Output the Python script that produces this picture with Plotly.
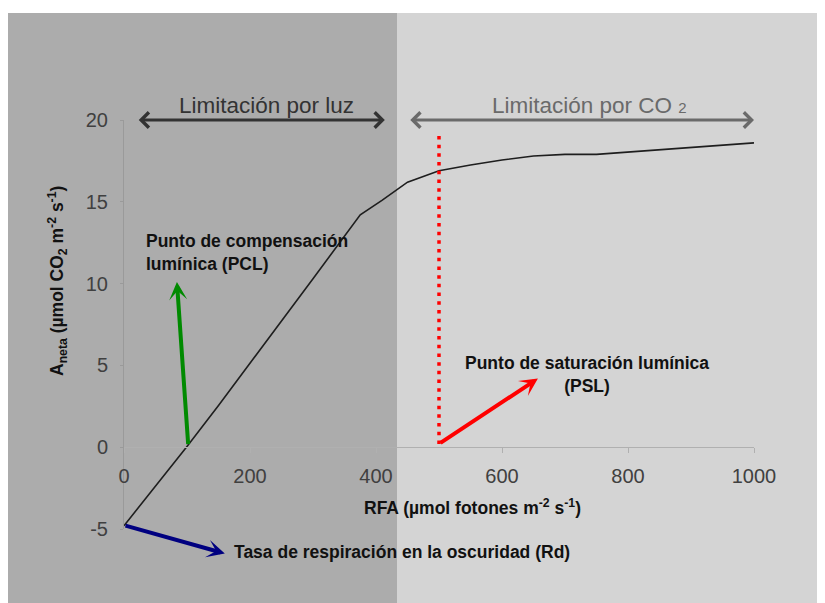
import plotly.graph_objects as go

# ---- data ----
rfa = [0, 50, 100, 150, 225, 300, 375, 410, 450, 500, 550, 600, 650, 700, 750, 1000]
a_neta = [-4.8, -2.4, 0.05, 2.55, 6.4, 10.3, 14.2, 15.1, 16.2, 16.9, 17.25, 17.55, 17.8, 17.9, 17.9, 18.6]

x_ticks = [0, 200, 400, 600, 800, 1000]
x_ticktext = ["0", "200", "400", "600", "800", "1000"]
y_ticks = [-5, 0, 5, 10, 15, 20]
y_ticktext = ["-5", "0", "5", "10", "15", "20"]

pcl_point = (102, 0.1)        # punto de compensación lumínica
pcl_tip = (84, 10.1)
psl_point = (500, 0.2)        # punto de saturación lumínica
psl_tip = (657, 4.2)
psl_line_top = 19.1
rd_point = (0, -4.77)         # respiración en oscuridad
rd_tip = (160, -6.5)
luz_range = (21, 414)
co2_range = (452, 1000)
arrow_y = 20

W, H = 825, 603
OFF = 8  # page body margin
L, T = 124 - OFF, 120 - OFF
PW, PH = 630, 409
R, B = W - L - PW, H - T - PH


def px(xp):  # screen pixel -> paper
    return (xp - OFF - L) / PW


def py(yp):
    return (T + PH - (yp - OFF)) / PH


fig = go.Figure()

# background panels
fig.add_shape(type="rect", xref="paper", yref="paper", x0=px(8), x1=px(397),
              y0=py(640), y1=py(13), fillcolor="#acacac", line_width=0, layer="below")
fig.add_shape(type="rect", xref="paper", yref="paper", x0=px(397), x1=px(840),
              y0=py(640), y1=py(13), fillcolor="#d4d4d4", line_width=0, layer="below")

# curve
fig.add_trace(go.Scatter(x=rfa, y=a_neta, mode="lines",
                         line=dict(color="#1e1e1e", width=1.6), hoverinfo="skip"))

# PSL dotted vertical line
fig.add_trace(go.Scatter(x=[psl_point[0], psl_point[0]], y=[psl_point[1], psl_line_top],
                         mode="lines", line=dict(color="#ff0000", width=3.5, dash="3.5px,5.2px"),
                         hoverinfo="skip"))

ann = []


def arrow(tip, tail, color, width, head, size, both=False):
    d = dict(x=tip[0], y=tip[1], ax=tail[0], ay=tail[1], xref="x", yref="y",
             axref="x", ayref="y", text="", showarrow=True, arrowcolor=color,
             arrowwidth=width, arrowhead=head, arrowsize=size, standoff=0, startstandoff=0)
    if both:
        d.update(arrowside="end+start", startarrowhead=head, startarrowsize=size)
    ann.append(d)


arrow(pcl_tip, pcl_point, "#008a00", 4, 3, 0.75)
arrow(psl_tip, psl_point, "#ff0000", 4, 3, 0.75)
arrow(rd_tip, rd_point, "#000080", 4, 3, 0.75)
arrow((luz_range[1], arrow_y), (luz_range[0], arrow_y), "#333333", 3, 4, 1, both=True)
arrow((co2_range[1], arrow_y), (co2_range[0], arrow_y), "#6a6a6a", 3, 4, 1, both=True)

fam = "Liberation Sans, Arial, sans-serif"

ann.append(dict(x=px(266), y=py(105), xref="paper", yref="paper", showarrow=False,
                text="Limitación por luz", font=dict(family=fam, size=22.5, color="#333333"),
                xanchor="center", yanchor="middle"))
ann.append(dict(x=px(589), y=py(106), xref="paper", yref="paper", showarrow=False,
                text="Limitación por CO <span style='font-size:15px'>2</span>",
                font=dict(family=fam, size=22.5, color="#6a6a6a"),
                xanchor="center", yanchor="middle"))
ann.append(dict(x=px(144), y=py(252), xref="paper", yref="paper", showarrow=False,
                text="<b>Punto de compensación<br>lumínica (PCL)</b>", align="left",
                font=dict(family=fam, size=17.5, color="#111111"),
                xanchor="left", yanchor="middle"))
ann.append(dict(x=px(587), y=py(374), xref="paper", yref="paper", showarrow=False,
                text="<b>Punto de saturación lumínica<br>(PSL)</b>", align="center",
                font=dict(family=fam, size=17.5, color="#111111"),
                xanchor="center", yanchor="middle"))
ann.append(dict(x=px(232), y=py(552), xref="paper", yref="paper", showarrow=False,
                text="<b>Tasa de respiración en la oscuridad (Rd)</b>",
                font=dict(family=fam, size=17.5, color="#111111"),
                xanchor="left", yanchor="middle"))
ann.append(dict(x=px(472), y=py(507), xref="paper", yref="paper", showarrow=False,
                text="<b>RFA (µmol fotones m<sup>-2</sup> s<sup>-1</sup>)</b>",
                font=dict(family=fam, size=17.5, color="#111111"),
                xanchor="center", yanchor="middle"))
ann.append(dict(x=px(57), y=py(281), xref="paper", yref="paper", showarrow=False,
                text="<b>A<sub>neta</sub> (µmol CO<sub>2</sub> m<sup>-2</sup> s<sup>-1</sup>)</b>",
                textangle=-90, font=dict(family=fam, size=17.5, color="#111111"),
                xanchor="center", yanchor="middle"))

fig.update_layout(
    width=W, height=H,
    margin=dict(l=L, r=R, t=T, b=B, pad=0),
    paper_bgcolor="white", plot_bgcolor="rgba(0,0,0,0)",
    showlegend=False,
    annotations=ann,
    xaxis=dict(range=[0, 1000], tickvals=x_ticks, ticktext=x_ticktext,
               showgrid=False, zeroline=False, showline=True, linecolor="#b0b0b0",
               linewidth=1, ticks="outside", ticklen=5, tickcolor="#b0b0b0",
               anchor="free", position=0.2, ticklabelstandoff=6,
               tickfont=dict(family=fam, size=20, color="#404040")),
    yaxis=dict(range=[-5, 20], tickvals=y_ticks, ticktext=y_ticktext,
               showgrid=False, zeroline=False, showline=True, linecolor="#9a9a9a",
               linewidth=1, ticks="outside", ticklen=3, tickcolor="#9a9a9a",
               ticklabelstandoff=8,
               tickfont=dict(family=fam, size=20, color="#404040")),
)

fig.write_html("out.html")
